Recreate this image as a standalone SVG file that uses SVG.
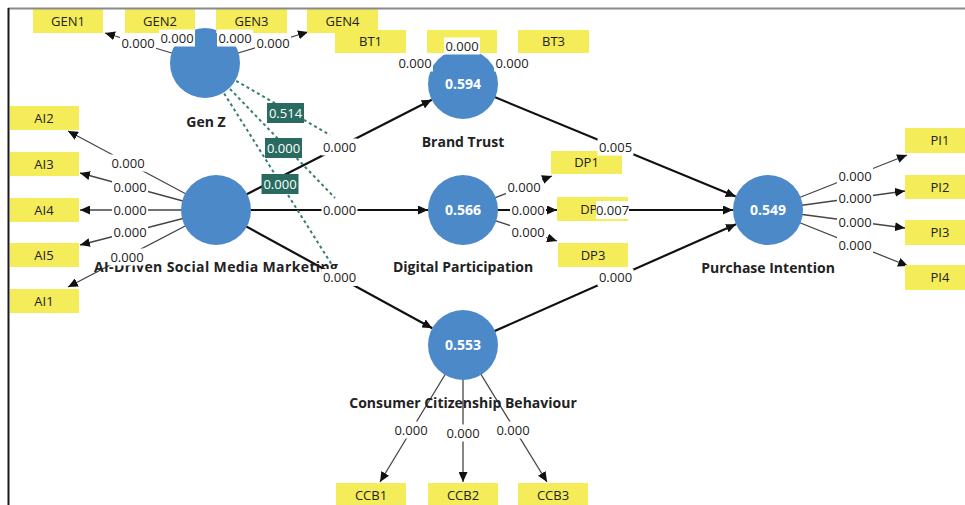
<svg xmlns="http://www.w3.org/2000/svg" width="965" height="505" viewBox="0 0 965 505">
<defs>
<marker id="ah" markerUnits="userSpaceOnUse" markerWidth="11" markerHeight="9" refX="10" refY="4.5" orient="auto" viewBox="0 0 11 9"><path d="M0,0 L10,4.5 L0,9 z" fill="#111"/></marker>
<style>
text{font-family:"Open Sans","Noto Sans","Liberation Sans",sans-serif;text-anchor:middle}
.box{fill:#f5ec5a}
.bt{font-size:13px;fill:#222}
.ln{stroke:#454545;stroke-width:1.3;fill:none;marker-end:url(#ah)}
.sp{stroke:#111;stroke-width:2.2;fill:none;marker-end:url(#ah)}
.dot{stroke:#3a7d74;stroke-width:2;stroke-dasharray:3 3;fill:none}
.lb rect{fill:#fff}
.lb text{font-size:13px;fill:#222}
.ml rect{fill:#2a6b61}
.ml text{font-size:13px;fill:#fff}
.node{fill:#4c89c9}
.nv{font-size:14px;font-weight:bold;fill:#fff}
.nn{font-size:14px;font-weight:bold;fill:#222}
</style>
</defs>
<rect width="965" height="505" fill="#fff"/>

<g id="connectors">
<path class="ln" d="M205,63 L105,33"/>
<path class="ln" d="M205,63 L308,32"/>
<path class="ln" d="M216,210 L68,131"/>
<path class="ln" d="M216,210 L80,173"/>
<path class="ln" d="M216,210 L80,210"/>
<path class="ln" d="M216,210 L80,245"/>
<path class="ln" d="M216,210 L68,287"/>
<path class="ln" d="M463,210 L552,176"/>
<path class="ln" d="M463,210 L557,210"/>
<path class="ln" d="M463,210 L557,241"/>
<path class="ln" d="M768,210 L907,155"/>
<path class="ln" d="M768,210 L905,191"/>
<path class="ln" d="M768,210 L905,228"/>
<path class="ln" d="M768,210 L908,266"/>
<path class="ln" d="M463,345 L380,482"/>
<path class="ln" d="M463,345 L463,482"/>
<path class="ln" d="M463,345 L547,482"/>
<path class="sp" d="M216,210 L431.8,99.8"/>
<path class="sp" d="M216,210 L428,210"/>
<path class="sp" d="M216,210 L432.3,328.2"/>
<path class="sp" d="M463,84 L735.7,196.6"/>
<path class="sp" d="M463,210 L733,210"/>
<path class="sp" d="M463,345 L736,224.2"/>
<path class="dot" d="M205,63 L330,135"/>
<path class="dot" d="M205,63 L335,198"/>
<path class="dot" d="M205,63 L332,265"/>
</g>

<g id="genz"><circle class="node" cx="205" cy="63" r="35"/><text class="nn" x="206" y="127">Gen Z</text></g>
<g id="bt"><circle class="node" cx="463" cy="84" r="35"/><text class="nv" x="463" y="89">0.594</text><text class="nn" x="463" y="147">Brand Trust</text></g>
<g id="ai"><circle class="node" cx="216" cy="210" r="35"/><text class="nn" x="216" y="272" textLength="244" lengthAdjust="spacing">AI-Driven Social Media Marketing</text></g>
<g id="dp"><circle class="node" cx="463" cy="210" r="35"/><text class="nv" x="463" y="215">0.566</text><text class="nn" x="463" y="272">Digital Participation</text></g>
<g id="pi"><circle class="node" cx="768" cy="210" r="35"/><text class="nv" x="768" y="215">0.549</text><text class="nn" x="768" y="273">Purchase Intention</text></g>
<g id="ccb"><circle class="node" cx="463" cy="345" r="35"/><text class="nv" x="463" y="350">0.553</text><text class="nn" x="463" y="408">Consumer Citizenship Behaviour</text></g>

<g id="gen1"><rect class="box" x="33" y="9" width="70" height="24"/><text class="bt" x="68" y="26">GEN1</text></g>
<g id="gen2"><rect class="box" x="125" y="9" width="70" height="24"/><text class="bt" x="160" y="26">GEN2</text></g>
<g id="gen3"><rect class="box" x="216" y="9" width="71" height="24"/><text class="bt" x="251.5" y="26">GEN3</text></g>
<g id="gen4"><rect class="box" x="307" y="9" width="71" height="24"/><text class="bt" x="342.5" y="26">GEN4</text></g>
<g id="bt1"><rect class="box" x="335" y="30" width="71" height="23"/><text class="bt" x="370.5" y="46">BT1</text></g>
<g id="bt2"><rect class="box" x="427" y="30" width="70" height="23"/></g>
<g id="bt3"><rect class="box" x="518" y="30" width="71" height="23"/><text class="bt" x="553.5" y="46">BT3</text></g>
<g id="ai2"><rect class="box" x="10" y="106" width="69" height="24"/><text class="bt" x="44" y="122.5">AI2</text></g>
<g id="ai3"><rect class="box" x="10" y="152" width="69" height="24"/><text class="bt" x="44" y="168.5">AI3</text></g>
<g id="ai4"><rect class="box" x="10" y="198" width="69" height="24"/><text class="bt" x="44" y="214.5">AI4</text></g>
<g id="ai5"><rect class="box" x="10" y="243" width="69" height="24"/><text class="bt" x="44" y="259.5">AI5</text></g>
<g id="ai1"><rect class="box" x="10" y="289" width="69" height="24"/><text class="bt" x="44" y="305.5">AI1</text></g>
<g id="dp1"><rect class="box" x="551" y="151" width="71" height="23"/><text class="bt" x="586.5" y="167">DP1</text></g>
<g id="dp2"><rect class="box" x="557" y="197" width="71" height="24"/><text class="bt" x="592.5" y="214">DP2</text></g>
<g id="dp3"><rect class="box" x="558" y="243" width="70" height="24"/><text class="bt" x="593" y="259.5">DP3</text></g>
<g id="pi1"><rect class="box" x="905" y="128" width="70" height="25"/><text class="bt" x="940" y="145">PI1</text></g>
<g id="pi2"><rect class="box" x="905" y="175" width="70" height="24"/><text class="bt" x="940" y="191.5">PI2</text></g>
<g id="pi3"><rect class="box" x="905" y="220" width="70" height="25"/><text class="bt" x="940" y="237">PI3</text></g>
<g id="pi4"><rect class="box" x="905" y="265" width="70" height="25"/><text class="bt" x="940" y="282">PI4</text></g>
<g id="ccb1"><rect class="box" x="336" y="483" width="70" height="24"/><text class="bt" x="371" y="500">CCB1</text></g>
<g id="ccb2"><rect class="box" x="428" y="483" width="70" height="24"/><text class="bt" x="463" y="500">CCB2</text></g>
<g id="ccb3"><rect class="box" x="518" y="483" width="70" height="24"/><text class="bt" x="553" y="500">CCB3</text></g>

<g id="connector-labels">
<g class="lb"><rect x="120" y="34.5" width="36" height="17"/><text x="138" y="47.5">0.000</text></g>
<g class="lb"><rect x="159" y="29.5" width="36" height="17"/><text x="177" y="42.5">0.000</text></g>
<g class="lb"><rect x="217" y="29.5" width="36" height="17"/><text x="235" y="42.5">0.000</text></g>
<g class="lb"><rect x="255" y="34.5" width="36" height="17"/><text x="273" y="47.5">0.000</text></g>
<g class="lb"><rect x="397" y="54.5" width="36" height="17"/><text x="415" y="67.5">0.000</text></g>
<g class="lb"><rect x="444" y="37.5" width="36" height="17"/><text x="462" y="50.5">0.000</text></g>
<g class="lb"><rect x="494" y="54.5" width="36" height="17"/><text x="512" y="67.5">0.000</text></g>
<g class="lb"><rect x="110" y="154.5" width="36" height="17"/><text x="128" y="167.5">0.000</text></g>
<g class="lb"><rect x="112" y="178.5" width="36" height="17"/><text x="130" y="191.5">0.000</text></g>
<g class="lb"><rect x="112" y="201.5" width="36" height="17"/><text x="130" y="214.5">0.000</text></g>
<g class="lb"><rect x="112" y="223.5" width="36" height="17"/><text x="130" y="236.5">0.000</text></g>
<g class="lb"><rect x="109" y="248.5" width="36" height="17"/><text x="127" y="261.5">0.000</text></g>
<g class="lb"><rect x="506" y="178.5" width="36" height="17"/><text x="524" y="191.5">0.000</text></g>
<g class="lb"><rect x="510" y="201.5" width="36" height="17"/><text x="528" y="214.5">0.000</text></g>
<g class="lb"><rect x="510" y="223.5" width="36" height="17"/><text x="528" y="236.5">0.000</text></g>
<g class="lb"><rect x="837" y="167.5" width="36" height="17"/><text x="855" y="180.5">0.000</text></g>
<g class="lb"><rect x="837" y="189.5" width="36" height="17"/><text x="855" y="202.5">0.000</text></g>
<g class="lb"><rect x="837" y="213.5" width="36" height="17"/><text x="855" y="226.5">0.000</text></g>
<g class="lb"><rect x="837" y="236.5" width="36" height="17"/><text x="855" y="249.5">0.000</text></g>
<g class="lb"><rect x="393" y="421.5" width="36" height="17"/><text x="411" y="434.5">0.000</text></g>
<g class="lb"><rect x="445" y="424.5" width="36" height="17"/><text x="463" y="437.5">0.000</text></g>
<g class="lb"><rect x="495" y="421.5" width="36" height="17"/><text x="513" y="434.5">0.000</text></g>
<g class="lb"><rect x="321.5" y="138.5" width="36" height="17"/><text x="339.5" y="151.5">0.000</text></g>
<g class="lb"><rect x="321.5" y="201.5" width="36" height="17"/><text x="339.5" y="214.5">0.000</text></g>
<g class="lb"><rect x="321.5" y="269" width="36" height="17"/><text x="339.5" y="282">0.000</text></g>
<g class="lb"><rect x="597.5" y="138.5" width="36" height="17"/><text x="615.5" y="151.5">0.005</text></g>
<g class="lb"><rect x="596" y="201" width="33" height="18"/><text x="612.5" y="214.5">0.007</text></g>
<g class="lb"><rect x="597.5" y="269" width="36" height="17"/><text x="615.5" y="282">0.000</text></g>
<g class="ml"><rect x="267" y="103" width="37" height="20"/><text x="285.5" y="117.5">0.514</text></g>
<g class="ml"><rect x="265" y="138" width="37" height="20"/><text x="283.5" y="152.5">0.000</text></g>
<g class="ml"><rect x="261.5" y="174" width="37" height="20"/><text x="280" y="188.5">0.000</text></g>
</g>

<line x1="8" y1="8.5" x2="965" y2="8.5" stroke="#8a8a8a" stroke-width="2"/>
<line x1="8.5" y1="8" x2="8.5" y2="505" stroke="#1a1a1a" stroke-width="2"/>
</svg>
